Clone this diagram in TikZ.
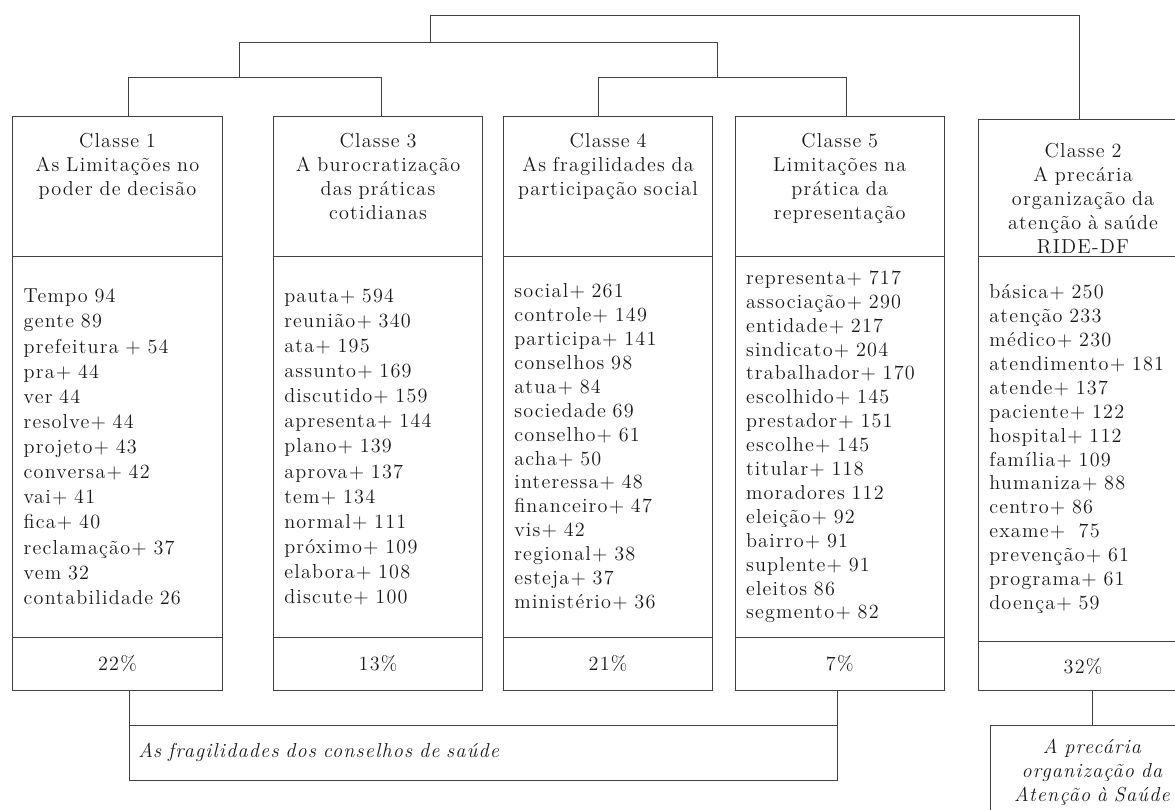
\documentclass[tikz,border=0pt]{standalone}
\usepackage{fontspec}
\setmainfont{Latin Modern Roman}[LetterSpace=6]
\usetikzlibrary{positioning}
\tikzset{
    LN/.style ={draw=black!75, line width=0.5pt},
    HD/.style 2 args ={draw=black!75, line width=0.5pt, anchor=north west, outer sep=0pt, inner xsep=0pt, inner ysep=0pt, minimum width=4.19cm, text width=4.0cm, align=center, text height=#1, text depth=#2},
    LS/.style ={draw=black!75, line width=0.5pt, outer sep=0pt, minimum width=4.19cm, minimum height=#1, text width=3.75cm, inner xsep=0.22cm, align=left},
    PC/.style ={draw=black!75, line width=0.5pt, outer sep=0pt, minimum width=4.19cm, minimum height=#1},
    RS/.style ={draw=black!75, line width=0.5pt, anchor=north west, outer sep=0pt, font=\fontsize{11.5}{13.6}\selectfont\itshape}}

\begin{document}
\begin{tikzpicture}[x=0.02cm, y=-0.02cm, every node/.append style={font=\fontsize{11.5}{13.6}\selectfont, text=black!90}]
        \useasboundingbox (0,0) rectangle (1175,810);
        \clip (0,0) rectangle (1175,810);
        % classes
        \node[HD={0.64cm}{2.174cm}] (h1) at (12.7,116) {Classe 1\\As Limitações no\\poder de decisão};
        \node[LS=7.61cm, below=0pt of h1, font=\fontsize{11.5}{14.3}\selectfont] (l1) {Tempo 94\\gente 89\\prefeitura + 54\\pra+ 44\\ver 44\\resolve+ 44\\projeto+ 43\\conversa+ 42\\vai+ 41\\fica+ 40\\reclamação+ 37\\vem 32\\contabilidade 26};
        \node[PC=1.07cm, below=0pt of l1] (p1) {22\%};
        \node[HD={0.64cm}{2.174cm}] (h3) at (273.3,116) {Classe 3\\A burocratização\\das práticas\\cotidianas};
        \node[LS=7.61cm, below=0pt of h3, font=\fontsize{11.5}{14.3}\selectfont] (l3) {pauta+ 594\\reunião+ 340\\ata+ 195\\assunto+ 169\\discutido+ 159\\apresenta+ 144\\plano+ 139\\aprova+ 137\\tem+ 134\\normal+ 111\\próximo+ 109\\elabora+ 108\\discute+ 100};
        \node[PC=1.07cm, below=0pt of l3] (p3) {13\%};
        \node[HD={0.64cm}{2.174cm}] (h4) at (503.3,116) {Classe 4\\As fragilidades da\\participação social};
        \node[LS=7.61cm, below=0pt of h4] (l4) {social+ 261\\controle+ 149\\participa+ 141\\conselhos 98\\atua+ 84\\sociedade 69\\conselho+ 61\\acha+ 50\\interessa+ 48\\financeiro+ 47\\vis+ 42\\regional+ 38\\esteja+ 37\\ministério+ 36};
        \node[PC=1.07cm, below=0pt of l4] (p4) {21\%};
        \node[HD={0.64cm}{2.174cm}] (h5) at (735,116) {Classe 5\\Limitações na\\prática da\\representação};
        \node[LS=7.61cm, below=0pt of h5] (l5) {representa+ 717\\associação+ 290\\entidade+ 217\\sindicato+ 204\\trabalhador+ 170\\escolhido+ 145\\prestador+ 151\\escolhe+ 145\\titular+ 118\\moradores 112\\eleição+ 92\\bairro+ 91\\suplente+ 91\\eleitos 86\\segmento+ 82};
        \node[PC=1.07cm, below=0pt of l5] (p5) {7\%};
        \node[HD={0.77cm}{1.984cm}] (h2) at (978.3,119) {Classe 2\\A precária\\organização da\\atenção à saúde\\RIDE-DF};
        \node[LS=7.7cm, below=0pt of h2] (l2) {básica+ 250\\atenção 233\\médico+ 230\\atendimento+ 181\\atende+ 137\\paciente+ 122\\hospital+ 112\\família+ 109\\humaniza+ 88\\centro+ 86\\exame+\ \ 75\\prevenção+ 61\\programa+ 61\\doença+ 59};
        \node[PC=0.986cm, below=0pt of l2] (p2) {32\%};
        % dendrogram
        \coordinate (a1) at (128.7,77.5);
        \coordinate (a3) at (381.3,77.5);
        \coordinate (a4) at (598.3,77.5);
        \coordinate (a5) at (846.7,77.5);
        \coordinate (b13) at (239.3,42.7);
        \coordinate (b45) at (717.7,42.7);
        \coordinate (r1) at (430,15.7);
        \coordinate (r2) at (1079.7,15.7);
        \draw[LN] (h1.north -| a1) -- (a1) -- (a3) -- (h3.north -| a3);
        \draw[LN] (h4.north -| a4) -- (a4) -- (a5) -- (h5.north -| a5);
        \draw[LN] (a1 -| b13) -- (b13) -- (b45) -- (a4 -| b45);
        \draw[LN] (b13 -| r1) -- (r1) -- (r2) -- (h2.north -| r2);
        % groups
        \node[RS, minimum width=14.16cm, minimum height=1.094cm, text width=13.8cm, inner xsep=0.18cm, align=left] (frag) at (129.3,725.3) {As fragilidades dos conselhos de saúde};
        \node[RS, minimum width=4.05cm, text width=3.8cm, inner xsep=0pt, inner ysep=0pt, align=center, text height=0.56cm, text depth=1.28cm] (pre) at (990.7,725.7) {A precária\\organização da\\Atenção à Saúde};
        \draw[LN] (frag.north west |- p1.south) -- (frag.north west);
        \draw[LN] (frag.north east |- p5.south) -- (frag.north east);
        \draw[LN] (p2.south -| pre.north) -- (pre.north);
    \end{tikzpicture}
\end{document}
